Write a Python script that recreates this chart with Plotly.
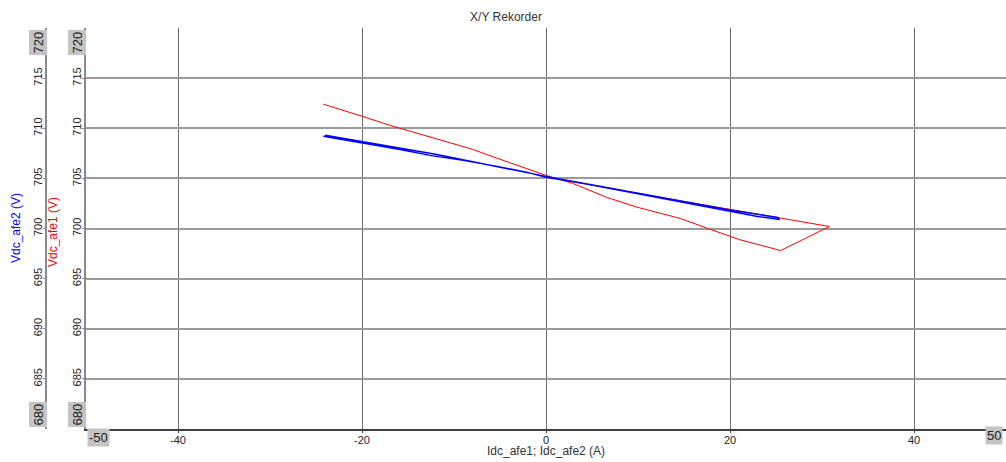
import plotly.graph_objects as go

# Recorded samples: DC-link voltage against DC current for the two AFE units
idc_afe1 = [-24.2, -22.0, -20.0, -17.0, -14.0, -11.5, -8.0, -5.3, -2.5, 0.0, 1.5,
            5.0, 10.0, 15.0, 20.0, 25.0, 28.0, 30.8, 25.5, 21.0, 17.6, 14.6,
            10.0, 6.6, 2.9, 1.5]
vdc_afe1 = [712.4, 711.8, 711.2, 710.3, 709.5, 708.8, 707.9, 707.0, 706.1, 705.3, 704.9,
            704.3, 703.5, 702.7, 701.9, 701.1, 700.6, 700.2, 697.8, 698.9, 700.0, 701.0,
            702.1, 703.1, 704.5, 704.9]

idc_afe2 = [-24.2, -20.0, -16.0, -12.6, -9.0, -5.3, -2.0, 0.0, 4.0, 8.0, 12.0,
            16.0, 20.0, 23.0, 25.4, 25.2, 20.0, 12.0, 4.0, 0.0, -12.0, -24.0]
vdc_afe2 = [709.2, 708.55, 707.9, 707.3, 706.8, 706.2, 705.6, 705.1, 704.5, 703.8, 703.1,
            702.4, 701.7, 701.2, 700.9, 701.1, 701.85, 703.2, 704.6, 705.2, 707.4, 709.3]

x_range = [-50, 50]
y_range = [680, 720]
x_ticks = [-40, -20, 0, 20, 40]
x_ticklabels = ["-40", "-20", "0", "20", "40"]
y_ticks = [685, 690, 695, 700, 705, 710, 715]

W, H = 1006, 462
FONT = "Liberation Sans, Arial, sans-serif"
X0 = 86 / W          # left edge of plotting area (paper fraction)
Y2POS = 46 / W       # outer voltage axis position
PLOT_TOP, PLOT_BOTTOM = 28, 429


def py(pixel_y):
    """Pixel row -> paper y fraction."""
    return (PLOT_BOTTOM - pixel_y) / (PLOT_BOTTOM - PLOT_TOP)


fig = go.Figure()
fig.add_trace(go.Scatter(x=idc_afe2, y=vdc_afe2, mode="lines", yaxis="y2",
                         line=dict(color="#0000ff", width=1.4), name="Vdc_afe2"))
fig.add_trace(go.Scatter(x=idc_afe1, y=vdc_afe1, mode="lines", yaxis="y",
                         line=dict(color="#ff0000", width=1), name="Vdc_afe1"))

yaxis_common = dict(
    range=y_range, tickvals=y_ticks, tickangle=-90,
    tickfont=dict(size=11, color="#222", family=FONT),
    showline=True, linecolor="#8a8a8a", linewidth=1.5,
    ticks="outside", ticklen=2, tickcolor="#8a8a8a",
    ticklabelstandoff=-3,
    zeroline=False, fixedrange=True,
)

fig.update_layout(
    width=W, height=H,
    margin=dict(l=0, r=0, t=PLOT_TOP, b=H - PLOT_BOTTOM),
    paper_bgcolor="white", plot_bgcolor="white",
    showlegend=False,
    font=dict(family=FONT, color="#222"),
    title=dict(text="X/Y Rekorder", x=0.503, xref="container", xanchor="center",
               y=1 - 17 / H, yref="container", yanchor="middle",
               font=dict(size=12, color="#333", family=FONT)),
    xaxis=dict(domain=[X0, 1], range=x_range, tickvals=x_ticks, ticktext=x_ticklabels,
               tickfont=dict(size=11, color="#222", family=FONT),
               showgrid=True, gridcolor="#6a6a6a", gridwidth=1.2,
               showline=True, linecolor="#404040", linewidth=1.5,
               ticks="outside", ticklen=2, tickcolor="#404040",
               ticklabelstandoff=-2,
               zeroline=False),
    yaxis=dict(anchor="x", showgrid=True, gridcolor="#9a9a9a", gridwidth=1.8,
               **yaxis_common),
    yaxis2=dict(anchor="free", overlaying="y", side="left", position=Y2POS,
                showgrid=False, **yaxis_common),
)

# End-of-scale labels drawn on grey plates
plate = dict(showarrow=False, bgcolor="#c4c4c4", borderpad=1,
             yanchor="middle", font=dict(size=13, color="#222", family=FONT))
for xp in (37.5 / W, 76.5 / W):
    fig.add_annotation(text="720", xref="paper", yref="paper", x=xp, xanchor="center",
                       y=py(43), textangle=-90, **plate)
    fig.add_annotation(text="680", xref="paper", yref="paper", x=xp, xanchor="center",
                       y=py(415), textangle=-90, **plate)
fig.add_annotation(text="-50", xref="paper", yref="paper", x=98 / W, xanchor="center",
                   y=py(437), **plate)
fig.add_annotation(text="50", xref="paper", yref="paper", x=994 / W, xanchor="center",
                   y=py(436), **plate)

# Axis titles
title_common = dict(xref="paper", yref="paper", showarrow=False,
                    xanchor="center", yanchor="middle")
fig.add_annotation(text="Vdc_afe2 (V)", x=16 / W, y=py(228), textangle=-90,
                   font=dict(size=12, color="#0000ff", family=FONT), **title_common)
fig.add_annotation(text="Vdc_afe1 (V)", x=53 / W, y=py(232), textangle=-90,
                   font=dict(size=12, color="#ff0000", family=FONT), **title_common)
fig.add_annotation(text="Idc_afe1; Idc_afe2 (A)", x=546 / W, y=py(451),
                   font=dict(size=12, color="#333", family=FONT), **title_common)

fig.write_html("out.html")
